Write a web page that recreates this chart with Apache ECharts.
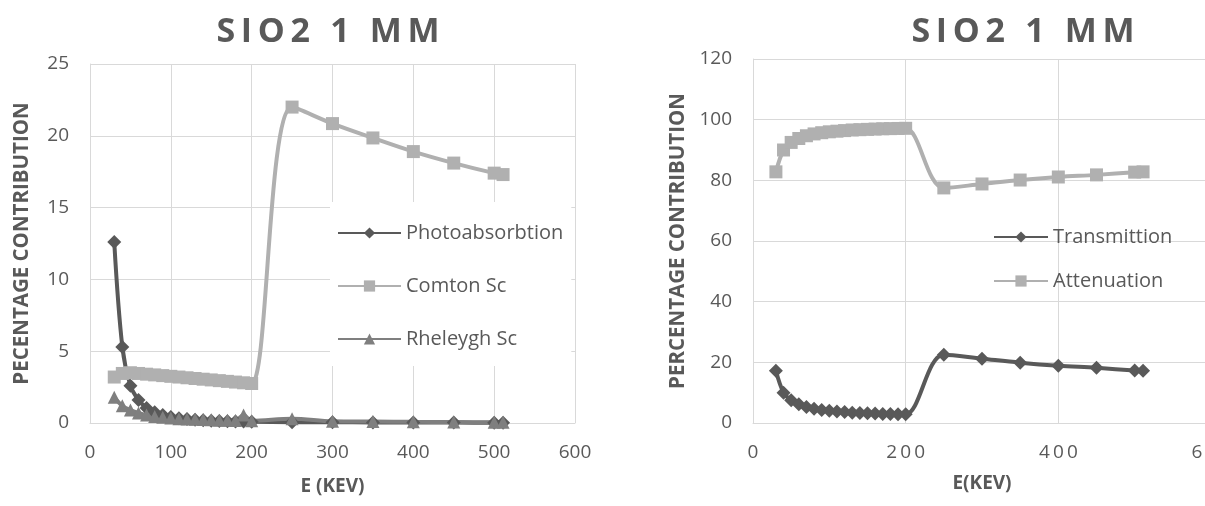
<!DOCTYPE html>
<html>
<head>
<meta charset="utf-8">
<script src="https://cdn.jsdelivr.net/npm/echarts@6/dist/echarts.min.js"></script>
<style>
  html, body { margin: 0; padding: 0; background: #fff; }
  #main { width: 1205px; height: 506px; }
</style>
</head>
<body>
<div id="main"></div>
<script>
// energy points (keV), same for both panels
var energy = [30,40,50,60,70,80,90,100,110,120,130,140,150,160,170,180,190,200,250,300,350,400,450,500,511];

// left panel: percentage contribution
var photo   = [12.6,5.3,2.6,1.6,1.05,0.75,0.55,0.42,0.33,0.27,0.22,0.19,0.16,0.14,0.12,0.11,0.1,0.09,0.06,0.05,0.04,0.03,0.03,0.02,0.02];
var compton = [3.2,3.45,3.5,3.45,3.4,3.35,3.3,3.25,3.2,3.15,3.1,3.05,3.0,2.95,2.9,2.85,2.8,2.75,22.0,20.85,19.85,18.9,18.1,17.4,17.3];
var rayleigh= [1.8,1.2,0.9,0.7,0.55,0.45,0.4,0.35,0.3,0.28,0.26,0.24,0.22,0.2,0.2,0.18,0.55,0.15,0.3,0.12,0.1,0.08,0.07,0.05,0.05];

// right panel
var transm  = [17.2,10,7.5,6.2,5.3,4.7,4.3,4.0,3.8,3.6,3.4,3.3,3.2,3.1,3.0,2.95,2.9,2.85,22.5,21.2,19.9,18.9,18.2,17.3,17.2];
var atten   = [82.8,90,92.5,93.8,94.7,95.3,95.7,96,96.2,96.4,96.6,96.7,96.8,96.9,97,97.05,97.1,97.15,77.5,78.8,80.1,81.1,81.8,82.7,82.8];

var titleText = 'SIO2 1 MM';
var leftNames = ['Photoabsorbtion','Comton Sc','Rheleygh Sc'];
var rightNames = ['Transmittion','Attenuation'];

var FONT = '"Open Sans"';
var TXT = '#595959';
var GRIDC = '#d9d9d9';

function spaced(s, sp) { return s.split('').join(sp); }
function pairs(ys) { return energy.map(function (e, i) { return [e, ys[i]]; }); }

var chartDom = document.getElementById('main');
var myChart = echarts.init(chartDom);

function line(name, data, color, symbol, size, xi) {
  return {
    name: name,
    type: 'line',
    xAxisIndex: xi,
    yAxisIndex: xi,
    data: pairs(data),
    smooth: 0.35,
    symbol: symbol,
    symbolSize: size,
    itemStyle: { color: color },
    lineStyle: { color: color, width: 4 },
    emphasis: { disabled: true }
  };
}

function xAx(grid, interval, name, gap, fmt) {
  return {
    gridIndex: grid, type: 'value', min: 0, max: 600, interval: interval,
    name: name, nameLocation: 'middle', nameGap: gap, nameMoveOverlap: false,
    nameTextStyle: { fontFamily: FONT, fontSize: 19, fontWeight: 'bold', color: TXT },
    axisLine: { show: true, lineStyle: { color: GRIDC } }, axisTick: { show: false },
    axisLabel: { fontFamily: FONT, fontSize: 19, color: TXT, margin: 20, formatter: fmt },
    splitLine: { show: true, lineStyle: { color: GRIDC, width: 1 } }
  };
}

function yAx(grid, max, interval, name, gap) {
  return {
    gridIndex: grid, type: 'value', min: 0, max: max, interval: interval,
    name: name, nameLocation: 'middle', nameGap: gap, nameMoveOverlap: false,
    nameTextStyle: { fontFamily: FONT, fontSize: 20.5, fontWeight: 'bold', color: TXT },
    axisLine: { show: true, lineStyle: { color: GRIDC } }, axisTick: { show: false },
    axisLabel: { fontFamily: FONT, fontSize: 19, color: TXT, margin: 21 },
    splitLine: { show: true, lineStyle: { color: GRIDC, width: 1 } }
  };
}

var option = {
  animation: false,
  textStyle: { fontFamily: FONT, color: TXT },
  title: [
    { text: spaced(titleText, '\u2006'), left: 323, top: 10, textAlign: 'center',
      textStyle: { fontFamily: FONT, fontSize: 34, fontWeight: 'bold', color: TXT } },
    { text: spaced(titleText, '\u2006'), left: 1018, top: 10, textAlign: 'center',
      textStyle: { fontFamily: FONT, fontSize: 34, fontWeight: 'bold', color: TXT } }
  ],
  legend: [
    {
      data: leftNames, orient: 'vertical', left: 330, top: 202,
      padding: [21, 8, 17, 7], itemGap: 33, itemWidth: 63, itemHeight: 14,
      backgroundColor: '#fff',
      textStyle: { fontFamily: FONT, fontSize: 20, lineHeight: 20, color: TXT }
    },
    {
      data: rightNames, orient: 'vertical', left: 990, top: 222,
      padding: [5, 5, 5, 3], itemGap: 24, itemWidth: 54, itemHeight: 14,
      textStyle: { fontFamily: FONT, fontSize: 20, lineHeight: 20, color: TXT }
    }
  ],
  grid: [
    { left: 90, top: 64, width: 485, height: 359, outerBoundsMode: 'none', containLabel: false },
    { left: 753, top: 59, width: 458, height: 364, outerBoundsMode: 'none', containLabel: false }
  ],
  xAxis: [
    xAx(0, 100, 'E (KEV)', 54),
    xAx(1, 200, 'E(KEV)', 51, function (v) { return spaced(String(v), '\u2009'); })
  ],
  yAxis: [
    yAx(0, 25, 5, 'PECENTAGE CONTRIBUTION', 57),
    yAx(1, 120, 20, 'PERCENTAGE CONTRIBUTION', 64)
  ],
  series: [
    line('Photoabsorbtion', photo, '#595959', 'diamond', 14, 0),
    line('Comton Sc', compton, '#b0b0b0', 'rect', 13, 0),
    line('Rheleygh Sc', rayleigh, '#7f7f7f', 'triangle', 13, 0),
    line('Transmittion', transm, '#595959', 'diamond', 14, 1),
    line('Attenuation', atten, '#b0b0b0', 'rect', 13, 1)
  ]
};
myChart.setOption(option);
</script>
</body>
</html>
